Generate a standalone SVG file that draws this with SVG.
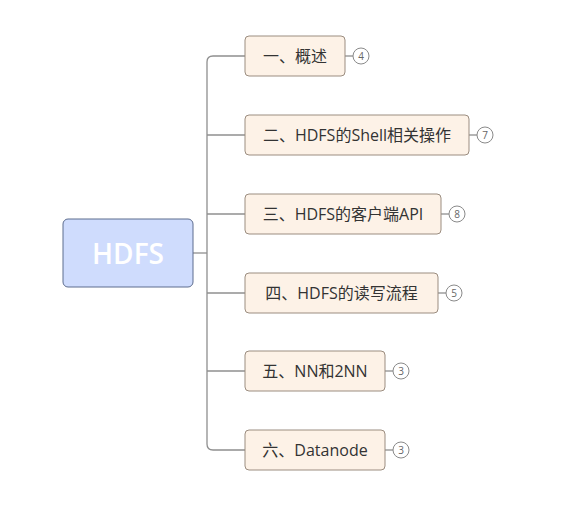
<svg xmlns="http://www.w3.org/2000/svg" width="585" height="522" viewBox="0 0 585 522">
<style>
.child rect{fill:#fdf2e7;stroke:#9b8d80;stroke-width:1}
.child text{font-family:"Open Sans","Noto Sans CJK SC",sans-serif;font-size:16px;fill:#333;text-anchor:middle;dominant-baseline:central}
.badge circle{fill:#fff;stroke:#8a8a8a;stroke-width:1}
.badge text{font-family:"Open Sans",sans-serif;font-size:10px;fill:#666;text-anchor:middle;dominant-baseline:central}
.conn path{fill:none;stroke:#8f8f8f;stroke-width:1.3}
</style>
<rect width="585" height="522" fill="#fff"/>
<g class="conn">
<path d="M193 253 H207"/>
<path d="M245 56 H213 Q207 56 207 62 V444 Q207 450 213 450 H245"/>
<path d="M207 135 H245"/>
<path d="M207 214 H245"/>
<path d="M207 293 H245"/>
<path d="M207 371 H245"/>
<path d="M345 56 H353"/>
<path d="M469 135 H477"/>
<path d="M441 214 H449"/>
<path d="M438 293 H446"/>
<path d="M385 371 H393"/>
<path d="M385 450 H393"/>
</g>
<g id="root">
<rect x="63" y="219" width="130" height="68" rx="5" fill="#cfdcfd" stroke="#5d6c8e" stroke-width="1"/>
<text x="128" y="253" font-family="Open Sans,Noto Sans,sans-serif" font-size="28" font-weight="600" fill="#fff" text-anchor="middle" dominant-baseline="central">HDFS</text>
</g>
<g id="n1" class="child"><rect x="245" y="36" width="100" height="40" rx="4"/><text x="295" y="56">一、概述</text></g>
<g id="n2" class="child"><rect x="245" y="115" width="224" height="40" rx="4"/><text x="357" y="135">二、HDFS的Shell相关操作</text></g>
<g id="n3" class="child"><rect x="245" y="194" width="196" height="40" rx="4"/><text x="343" y="214">三、HDFS的客户端API</text></g>
<g id="n4" class="child"><rect x="245" y="273" width="193" height="40" rx="4"/><text x="341.5" y="293">四、HDFS的读写流程</text></g>
<g id="n5" class="child"><rect x="245" y="351" width="140" height="40" rx="4"/><text x="315" y="371">五、NN和2NN</text></g>
<g id="n6" class="child"><rect x="245" y="430" width="140" height="40" rx="4"/><text x="315" y="450">六、Datanode</text></g>
<g class="badge">
<g id="b1"><circle cx="361" cy="56" r="8"/><text x="361" y="56">4</text></g>
<g id="b2"><circle cx="485" cy="135" r="8"/><text x="485" y="135">7</text></g>
<g id="b3"><circle cx="457" cy="214" r="8"/><text x="457" y="214">8</text></g>
<g id="b4"><circle cx="454" cy="293" r="8"/><text x="454" y="293">5</text></g>
<g id="b5"><circle cx="401" cy="371" r="8"/><text x="401" y="371">3</text></g>
<g id="b6"><circle cx="401" cy="450" r="8"/><text x="401" y="450">3</text></g>
</g>
</svg>
